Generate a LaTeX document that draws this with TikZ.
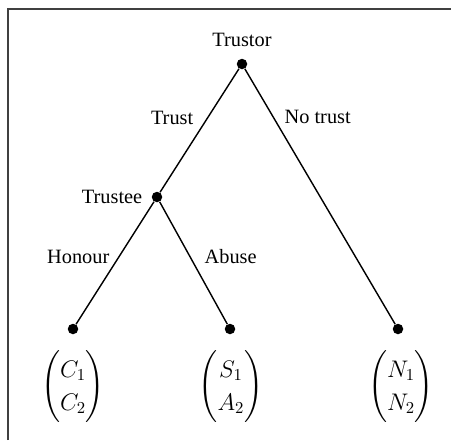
\documentclass[tikz,border=0pt]{standalone}
\usepackage{amsmath}
\usepackage{fontspec}
\setmainfont{Liberation Serif}
\usetikzlibrary{positioning}

\begin{document}
\begin{tikzpicture}[x=0.6pt, y=-0.6pt,
    dot/.style={circle, fill, inner sep=0pt, minimum size=6.3pt},
    lbl/.style={font=\fontsize{12.2}{14}\selectfont},
    payoff/.style={font=\fontsize{14.5}{20}\selectfont, inner sep=0pt},
    branch/.style={line width=0.85pt}]

    \useasboundingbox (0,0) rectangle (451,440);

    % frame
    \draw[line width=0.8pt, black!75] (8,440) -- (8,9) -- (451,9);

    % decision nodes
    \node[dot] (trustor) at (242,64) {};
    \node[dot] (trustee) at (157,197) {};
    \node[lbl] at (242,40) {Trustor};
    \node[lbl, left=2pt of trustee] {Trustee};

    % end nodes
    \node[dot] (honour) at (73,329) {};
    \node[dot] (abuse) at (230,329) {};
    \node[dot] (notrust) at (398,329) {};

    % branches
    \draw[branch] (trustor) -- node[lbl, above left] {Trust} (trustee);
    \draw[branch] (trustor) -- node[lbl, pos=0.19, right, xshift=3pt] {No trust} (notrust);
    \draw[branch] (trustee) -- node[lbl, pos=0.45, left, xshift=-2pt] {Honour} (honour);
    \draw[branch] (trustee) -- node[lbl, pos=0.45, right, xshift=5pt] {Abuse} (abuse);

    % payoffs
    \node[payoff] (payc) at (73,387) {$\begin{pmatrix} C_1 \\ C_2 \end{pmatrix}$};
    \node[payoff] (pays) at (231,387) {$\begin{pmatrix} S_1 \\ A_2 \end{pmatrix}$};
    \node[payoff] (payn) at (401,387) {$\begin{pmatrix} N_1 \\ N_2 \end{pmatrix}$};
\end{tikzpicture}
\end{document}
